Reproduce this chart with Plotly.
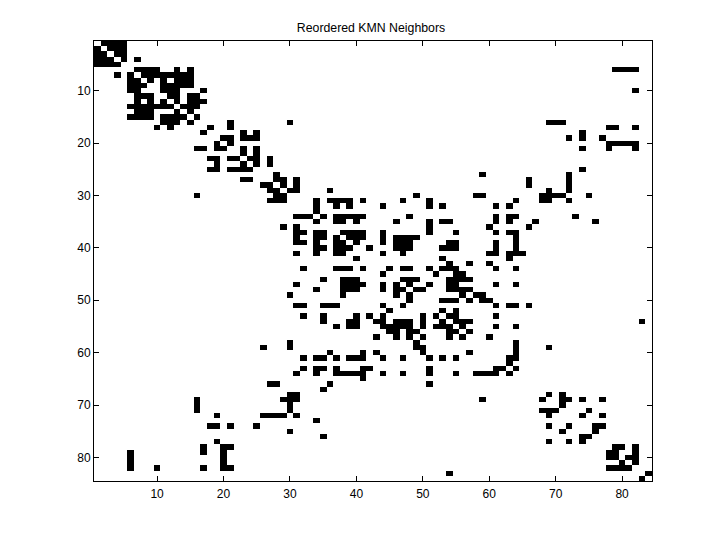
import plotly.graph_objects as go

n = 84
title_text = "Reordered KMN Neighbors"
tick_values = [10, 20, 30, 40, 50, 60, 70, 80]

# for each row: neighbouring columns to the right of the diagonal (mirrored below it)
row_01 = [2, 3, 4, 5]
row_02 = [3, 4, 5]
row_03 = [4, 5]
row_04 = [5, 7]
row_05 = []
row_06 = [7, 8, 9, 10, 13, 15, 79, 80, 81, 82]
row_07 = [8, 9, 10, 11, 12, 13, 14, 15]
row_08 = [9, 11, 13, 14, 15]
row_09 = [11, 12, 13, 14, 15]
row_10 = [13, 17, 82]
row_11 = [12, 13, 15, 16]
row_12 = [13, 15, 16, 17]
row_13 = [14, 15, 16]
row_14 = [15]
row_15 = [16]
row_16 = [21, 30, 69, 70, 71]
row_17 = [18, 21, 78, 79, 82]
row_18 = [23, 25, 74]
row_19 = [20, 21, 23, 24, 25, 72, 74, 77]
row_20 = [21, 78, 79, 80, 81, 82]
row_21 = [23, 25, 74, 78, 82]
row_22 = [23, 25]
row_23 = [24, 25, 27]
row_24 = [25, 27]
row_25 = [74]
row_26 = [28, 59, 72]
row_27 = [28, 29, 31, 66, 72]
row_28 = [29, 31, 66, 72]
row_29 = [30, 31, 36, 69, 72]
row_30 = [49, 58, 59, 68, 69, 70, 71, 75]
row_31 = [34, 36, 37, 38, 39, 41, 47, 51, 64, 68, 69, 72]
row_32 = [34, 37, 39, 44, 51, 53, 61, 63]
row_33 = [34]
row_34 = [35, 37, 38, 39, 40, 41, 48, 61, 63, 64, 73]
row_35 = [37, 38, 40, 46, 51, 53, 54, 61, 63, 67, 76]
row_36 = [51, 60, 66]
row_37 = [38, 39, 40, 41, 44, 51, 55, 61, 63, 64]
row_38 = [39, 40, 41, 44, 46, 47, 48, 49, 64]
row_39 = [40, 44, 46, 47, 48, 54, 55, 61, 64]
row_40 = [42, 46, 47, 48, 53, 54, 55, 61, 64]
row_41 = [44, 47, 60, 61, 63, 64, 65]
row_42 = [53, 63]
row_43 = [54, 57, 60]
row_44 = [45, 47, 48, 51, 53, 54, 55, 61, 64]
row_45 = [52, 55, 56]
row_46 = [47, 48, 49, 54, 55, 56, 57]
row_47 = [48, 51, 54, 55, 61, 64]
row_48 = [49, 50, 54, 55, 56, 57]
row_49 = [56, 58, 59]
row_50 = [53, 54, 55, 57, 59, 60]
row_51 = [61, 63, 64, 66]
row_52 = [53, 55]
row_53 = [54, 55, 61]
row_54 = [55, 56, 57, 83]
row_55 = [56, 61, 64]
row_56 = [57]
row_57 = [60]
row_58 = [64]
row_59 = [64, 69]
row_60 = [64]
row_61 = [63, 64]
row_62 = [63]
row_63 = [64]
row_64 = []
row_65 = []
row_66 = []
row_67 = []
row_68 = [69, 71]
row_69 = [71, 72, 74, 77]
row_70 = [71]
row_71 = [75]
row_72 = [74, 77]
row_73 = []
row_74 = [76, 77]
row_75 = [76]
row_76 = []
row_77 = []
row_78 = [79, 80, 82]
row_79 = [82]
row_80 = [81, 82]
row_81 = [82]
row_82 = []
row_83 = [84]
row_84 = []

# single cells that have no mirror partner in the picture
unmirrored_rows = [10, 10, 30, 79, 80]
unmirrored_cols = [11, 12, 28, 79, 79]

rows = [row_01, row_02, row_03, row_04, row_05, row_06, row_07, row_08, row_09, row_10,
        row_11, row_12, row_13, row_14, row_15, row_16, row_17, row_18, row_19, row_20,
        row_21, row_22, row_23, row_24, row_25, row_26, row_27, row_28, row_29, row_30,
        row_31, row_32, row_33, row_34, row_35, row_36, row_37, row_38, row_39, row_40,
        row_41, row_42, row_43, row_44, row_45, row_46, row_47, row_48, row_49, row_50,
        row_51, row_52, row_53, row_54, row_55, row_56, row_57, row_58, row_59, row_60,
        row_61, row_62, row_63, row_64, row_65, row_66, row_67, row_68, row_69, row_70,
        row_71, row_72, row_73, row_74, row_75, row_76, row_77, row_78, row_79, row_80,
        row_81, row_82, row_83, row_84]

z = [[0] * n for _ in range(n)]
for i, cols in enumerate(rows):
    for c in cols:
        z[i][c - 1] = 1
        z[c - 1][i] = 1
for r, c in zip(unmirrored_rows, unmirrored_cols):
    z[r - 1][c - 1] = 1

fig = go.Figure(go.Heatmap(
    z=z,
    x=list(range(1, n + 1)),
    y=list(range(1, n + 1)),
    colorscale=[[0, "#ffffff"], [1, "#000000"]],
    zmin=0, zmax=1,
    showscale=False,
    hoverinfo="skip",
))

axis = dict(
    tickmode="array",
    tickvals=tick_values,
    ticks="inside",
    ticklen=5,
    tickwidth=1,
    tickcolor="#000000",
    showline=True,
    linecolor="#000000",
    linewidth=1,
    mirror="allticks",
    showgrid=False,
    zeroline=False,
    tickfont=dict(family="Liberation Sans", size=12, color="#000000"),
)

fig.update_layout(
    width=720,
    height=540,
    margin=dict(l=86, r=76, t=33, b=67),
    paper_bgcolor="#ffffff",
    plot_bgcolor="#ffffff",
    title=dict(
        text=title_text,
        font=dict(family="Liberation Sans", size=12.3, color="#000000"),
        x=363 / 720, xanchor="center",
        y=1 - 20 / 540, yanchor="middle",
    ),
    xaxis=dict(range=[0.5, 84.5], ticklabelstandoff=2, **axis),
    yaxis=dict(range=[84.5, 0.5], **axis),
)

fig.write_html("out.html")
